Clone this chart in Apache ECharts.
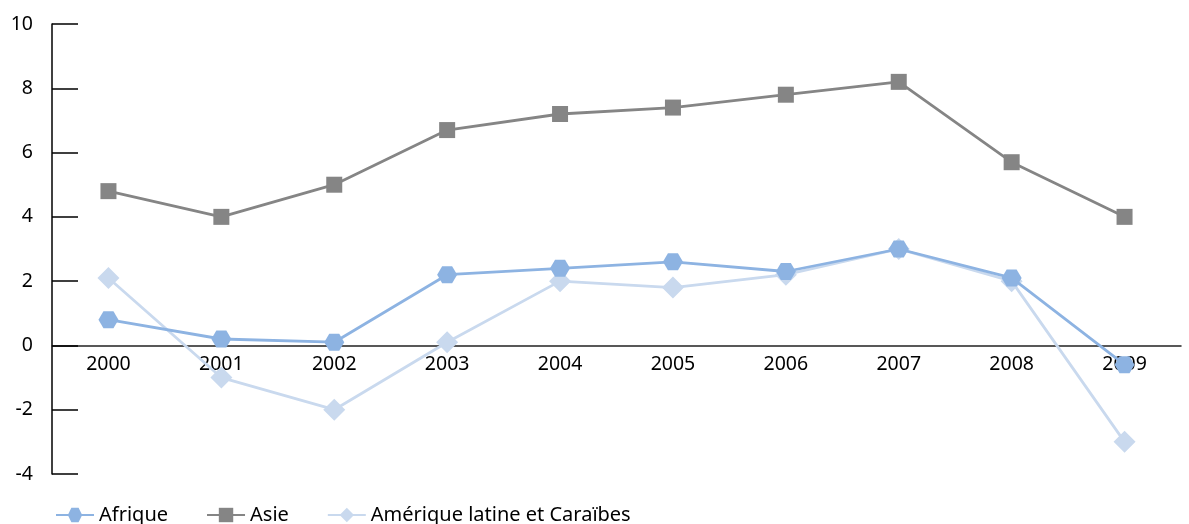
<!DOCTYPE html>
<html><head><meta charset="utf-8">
<script src="https://cdn.jsdelivr.net/npm/echarts@6/dist/echarts.min.js"></script>
<style>html,body{margin:0;padding:0;background:#fff}#c{width:1189px;height:524px}</style>
</head><body><div id="c"></div>
<script>
var categories = ['2000','2001','2002','2003','2004','2005','2006','2007','2008','2009'];
var afrique = [0.8, 0.2, 0.1, 2.2, 2.4, 2.6, 2.3, 3.0, 2.1, -0.6];
var asie = [4.8, 4.0, 5.0, 6.7, 7.2, 7.4, 7.8, 8.2, 5.7, 4.0];
var amerique = [2.1, -1.0, -2.0, 0.1, 2.0, 1.8, 2.2, 3.0, 2.0, -3.0];
var names = ['Afrique', 'Asie', 'Amérique latine et Caraïbes'];

var font = '"Noto Sans", sans-serif';
var hex = 'path://M0,5 L3,0 L9,0 L12,5 L9,10 L3,10 Z';
var chart = echarts.init(document.getElementById('c'));
chart.setOption({
  animation: false,
  textStyle: {fontFamily: font},
  grid: {left: 52, right: 8, top: 24, bottom: 50, containLabel: false},
  legend: {
    left: 50, bottom: -6, padding: 5, itemWidth: 38, itemHeight: 18, itemGap: 38,
    textStyle: {fontSize: 20, color: '#000', fontFamily: font},
    data: names
  },
  xAxis: {
    type: 'category', data: categories, boundaryGap: true,
    position: 'bottom', offset: -128.6,
    axisLine: {onZero: false, lineStyle: {color: '#222', width: 1.5}},
    axisTick: {inside: true, length: 10, lineStyle: {color: '#222', width: 1.2}},
    axisLabel: {fontSize: 19.5, color: '#000', margin: 9, fontFamily: font},
    splitLine: {show: false}
  },
  yAxis: {
    type: 'value', min: -4, max: 10, interval: 2,
    axisLine: {show: true, lineStyle: {color: '#000', width: 1.5}},
    axisTick: {show: true, inside: true, length: 26, lineStyle: {color: '#000', width: 1.5}},
    axisLabel: {fontSize: 19.5, color: '#000', margin: 19, fontFamily: font},
    splitLine: {show: false}
  },
  series: [
    {name: names[0], type: 'line', data: afrique, z: 4,
     symbol: hex, symbolSize: [20, 17],
     lineStyle: {color: '#8db3e2', width: 2.8},
     itemStyle: {color: '#8db3e2'}},
    {name: names[1], type: 'line', data: asie, z: 3,
     symbol: 'rect', symbolSize: 16,
     lineStyle: {color: '#858585', width: 2.8},
     itemStyle: {color: '#858585'}},
    {name: names[2], type: 'line', data: amerique, z: 2,
     symbol: 'diamond', symbolSize: 22,
     lineStyle: {color: '#c9d9ee', width: 2.8},
     itemStyle: {color: '#c9d9ee'}}
  ]
});
</script></body></html>
